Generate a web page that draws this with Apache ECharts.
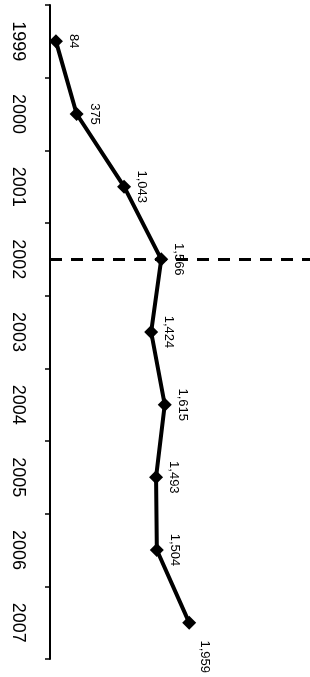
<!DOCTYPE html>
<html>
<head>
<meta charset="utf-8">
<script src="https://cdn.jsdelivr.net/npm/echarts@6/dist/echarts.min.js"></script>
<style>
  html, body { margin: 0; padding: 0; background: #fff; }
  #chart { width: 310px; height: 677px; }
</style>
</head>
<body>
<div id="chart"></div>
<script>
    // years along the (vertical) category axis
    var years = ['1999', '2000', '2001', '2002', '2003', '2004', '2005', '2006', '2007'];
    var values = [84, 375, 1043, 1566, 1424, 1615, 1493, 1504, 1959];
    var markYear = '2002';

    var chart = echarts.init(document.getElementById('chart'));

    var seriesData = values.map(function (v, i) {
        var item = { value: v };
        if (i === values.length - 1) {
            // last label sits below-right of its point
            item.label = { offset: [34, 2] };
        }
        return item;
    });

    var option = {
        animation: false,
        grid: { left: 50, right: 0, top: 5, bottom: 18 },
        xAxis: {
            type: 'value',
            min: 0,
            max: 3660,
            show: false,
            splitLine: { show: false }
        },
        yAxis: {
            type: 'category',
            inverse: true,
            data: years,
            boundaryGap: true,
            axisLine: { lineStyle: { color: '#000', width: 2 } },
            axisTick: { show: true, length: 5, lineStyle: { color: '#000', width: 1.5 } },
            axisLabel: {
                rotate: -90,
                margin: 23,
                color: '#000',
                fontSize: 18,
                fontFamily: 'Liberation Sans, Arial, sans-serif'
            }
        },
        series: [{
            type: 'line',
            data: seriesData,
            symbol: 'diamond',
            symbolSize: 14,
            lineStyle: { color: '#000', width: 4 },
            itemStyle: { color: '#000' },
            label: {
                show: true,
                position: 'right',
                distance: 4,
                rotate: -90,
                align: 'center',
                verticalAlign: 'bottom',
                color: '#000',
                fontSize: 13,
                fontFamily: 'Liberation Sans, Arial, sans-serif',
                formatter: function (p) { return p.value.toLocaleString('en-US'); }
            },
            markLine: {
                silent: true,
                symbol: 'none',
                label: { show: false },
                lineStyle: { color: '#000', width: 3, type: [12, 9] },
                data: [{ yAxis: markYear }]
            }
        }]
    };

    chart.setOption(option);
</script>
</body>
</html>
